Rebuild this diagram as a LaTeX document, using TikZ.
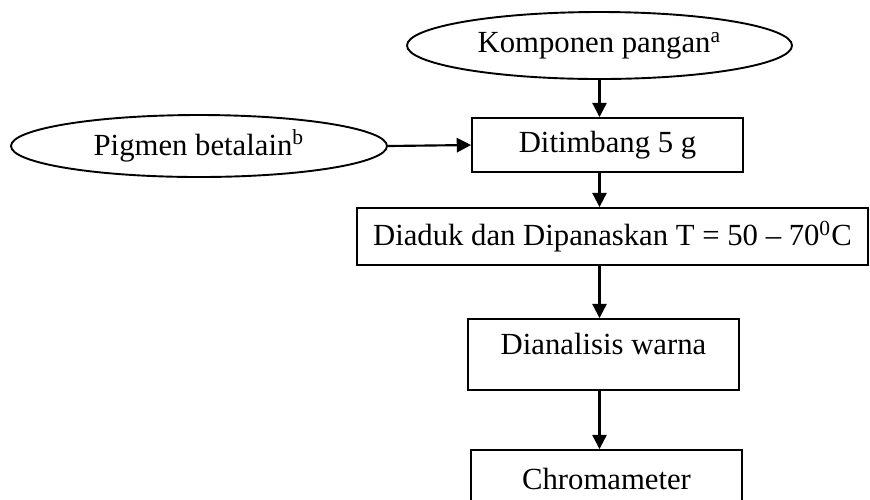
\documentclass[tikz,border=0pt]{standalone}
\usepackage{fontspec}
\setmainfont{Liberation Serif}
\usepackage{tikz}
\usetikzlibrary{shapes.geometric,arrows.meta}

\tikzset{
  oval/.style={draw=black,line width=0.8pt,ellipse,inner sep=0pt},
  stepbox/.style={draw=black,line width=0.8pt,rectangle,inner sep=0pt},
  arr/.style={draw=black,line width=0.9pt,-{Triangle[length=6pt,width=6pt]}}
}

\begin{document}
\begin{tikzpicture}[x=0.42pt,y=-0.42pt,font=\fontsize{12.9}{15}\selectfont]
\useasboundingbox (0,0) rectangle (870,499);
\clip (0,0) rectangle (870,499);
% inputs:
\node[oval,minimum width=385*0.42pt,minimum height=67*0.42pt] (komp) at (599.5,45.5) {Komponen pangan\textsuperscript{a}};
\node[oval,minimum width=376*0.42pt,minimum height=62*0.42pt] (pigmen) at (199,146) {Pigmen betalain\textsuperscript{b}};
% steps:
\node[stepbox,minimum width=271*0.42pt,minimum height=54*0.42pt] (timbang) at (607.5,145) {Ditimbang 5 g};
\node[stepbox,minimum width=511*0.42pt,minimum height=57*0.42pt] (aduk) at (612.5,236.5) {Diaduk dan Dipanaskan T = 50 – 70\textsuperscript{0}C};
\node[stepbox,minimum width=271*0.42pt,minimum height=71*0.42pt,text depth=9pt] (analisis) at (603.5,354.5) {Dianalisis warna};
\node[stepbox,minimum width=271*0.42pt,minimum height=58*0.42pt] (chroma) at (606.5,479) {Chromameter};
% arrows:
\draw[arr] (komp.south) -- (komp.south |- timbang.north);
\draw[arr] (pigmen.east) -- (timbang.west);
\draw[arr] (timbang.south -| komp.south) -- (aduk.north -| komp.south);
\draw[arr] (aduk.south -| komp.south) -- (analisis.north -| komp.south);
\draw[arr] (analisis.south -| komp.south) -- (chroma.north -| komp.south);
\end{tikzpicture}
\end{document}
